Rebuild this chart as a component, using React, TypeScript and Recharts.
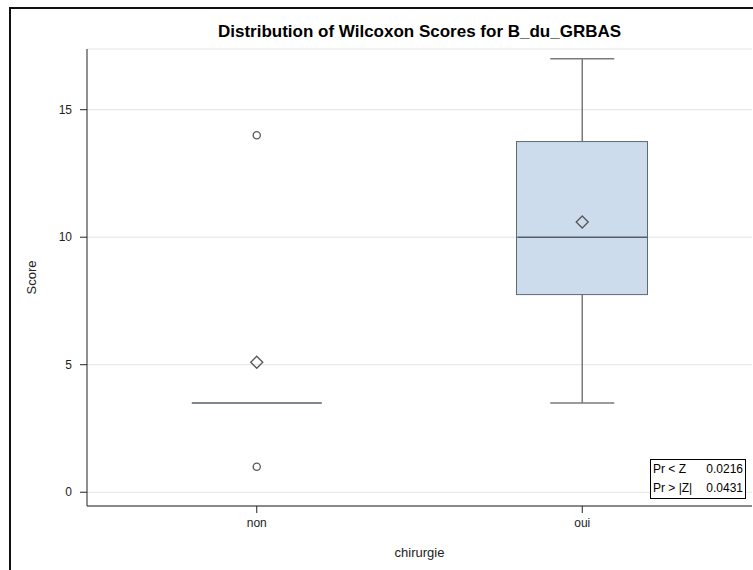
import { ComposedChart, Bar, Scatter, XAxis, YAxis, CartesianGrid, Label } from "recharts";

// Wilcoxon scores by group
const categories = ["non", "oui"];
const q1 = [3.5, 7.75];
const medians = [3.5, 10];
const q3 = [3.5, 13.75];
const whiskerLow = [3.5, 3.5];
const whiskerHigh = [3.5, 17];
const means = [5.1, 10.6];
const outlierHigh = [14, null];
const outlierLow = [1, null];
const yTicks = [0, 5, 10, 15];
const statLabels = ["Pr < Z", "Pr > |Z|"];
const statValues = ["0.0216", "0.0431"];

const data = categories.map((cat, i) => ({
  cat,
  whisker: [whiskerLow[i], whiskerHigh[i]],
  box: [q1[i], q3[i]],
  median: medians[i],
  lo: whiskerLow[i],
  hi: whiskerHigh[i],
  mean: means[i],
  outHigh: outlierHigh[i],
  outLow: outlierLow[i],
}));

const FONT = "'Liberation Sans', Arial, sans-serif";
const FRAME = "#222";

const WhiskerShape = (p: any) => (
  <rect x={p.x} y={p.y} width={p.width} height={Math.max(p.height, 0)} fill="#7a7a7a" />
);

const BoxShape = (p: any) => (
  <rect
    x={p.x}
    y={p.y}
    width={p.width}
    height={Math.max(p.height, 0)}
    fill="#cddcec"
    stroke="#5e6974"
    strokeWidth={1}
  />
);

const capShape = (p: any) => {
  if (p.payload.lo === p.payload.hi) return <g />;
  return <line x1={p.cx - 32} x2={p.cx + 32} y1={p.cy} y2={p.cy} stroke="#7a7a7a" strokeWidth={1.5} />;
};

const medianShape = (p: any) => (
  <line x1={p.cx - 65} x2={p.cx + 65} y1={p.cy} y2={p.cy} stroke="#555e68" strokeWidth={1.5} />
);

const meanShape = (p: any) => (
  <polygon
    points={`${p.cx},${p.cy - 6} ${p.cx + 6},${p.cy} ${p.cx},${p.cy + 6} ${p.cx - 6},${p.cy}`}
    fill="none"
    stroke="#5a5a5a"
    strokeWidth={1.4}
  />
);

const outlierShape = (key: string) => (p: any) => {
  if (p.payload[key] == null) return <g />;
  return <circle cx={p.cx} cy={p.cy} r={3.6} fill="none" stroke="#5a5a5a" strokeWidth={1.3} />;
};

export default function App() {
  return (
    <div
      style={{
        position: "absolute",
        left: 0,
        top: 0,
        width: 753,
        height: 570,
        overflow: "hidden",
        background: "#fff",
        fontFamily: FONT,
      }}
    >
      <div
        style={{
          position: "absolute",
          left: 9,
          top: 7,
          width: 800,
          height: 600,
          borderLeft: "2px solid #111",
          borderTop: "2px solid #111",
        }}
      />
      <div
        style={{
          position: "absolute",
          left: 87,
          top: 22,
          width: 665,
          textAlign: "center",
          fontSize: 17,
          fontWeight: "bold",
          color: "#000",
        }}
      >
        Distribution of Wilcoxon Scores for B_du_GRBAS
      </div>

      <ComposedChart
        width={753}
        height={570}
        data={data}
        margin={{ top: 49, right: 1, bottom: 0, left: 0 }}
        barGap={0}
        style={{ position: "absolute", left: 0, top: 0 }}
      >
        <CartesianGrid vertical={false} stroke="#e4e4e4" strokeWidth={1} />
        <XAxis
          dataKey="cat"
          type="category"
          height={64}
          padding={{ left: 7, right: 7 }}
          tickSize={7}
          tickMargin={5}
          tick={{ fontSize: 12, fill: "#222", fontFamily: FONT }}
          tickLine={{ stroke: FRAME }}
          axisLine={{ stroke: FRAME }}
        >
          <Label
            value="chirurgie"
            position="insideBottom"
            offset={13}
            style={{ fontSize: 13, fill: "#222", fontFamily: FONT }}
          />
        </XAxis>
        <XAxis
          xAxisId="w"
          dataKey="cat"
          type="category"
          orientation="top"
          height={0}
          padding={{ left: 7, right: 7 }}
          tick={false}
          tickLine={false}
          axisLine={{ stroke: FRAME }}
        />
        <YAxis
          type="number"
          width={87}
          domain={[-0.54, 17.38]}
          ticks={yTicks}
          allowDataOverflow
          tickSize={7}
          tickMargin={8}
          tick={{ fontSize: 12, fill: "#222", fontFamily: FONT }}
          tickLine={{ stroke: FRAME }}
          axisLine={{ stroke: FRAME }}
        >
          <Label
            content={(props: any) => {
              const vb = props.viewBox || { x: 0, y: 49, height: 457 };
              const cx = vb.x + 31;
              const cy = vb.y + vb.height / 2;
              return (
                <text
                  x={cx}
                  y={cy}
                  transform={`rotate(-90 ${cx} ${cy})`}
                  textAnchor="middle"
                  dominantBaseline="central"
                  fontSize={13}
                  fill="#222"
                  fontFamily={FONT}
                >
                  Score
                </text>
              );
            }}
          />
        </YAxis>
        <YAxis
          yAxisId="r"
          orientation="right"
          width={0}
          domain={[0, 1]}
          tick={false}
          tickLine={false}
          axisLine={{ stroke: FRAME }}
        />

        <Bar xAxisId="w" dataKey="whisker" barSize={1.5} shape={WhiskerShape} isAnimationActive={false} />
        <Bar dataKey="box" barSize={131} shape={BoxShape} isAnimationActive={false} />
        <Scatter dataKey="hi" shape={capShape} isAnimationActive={false} />
        <Scatter dataKey="lo" shape={capShape} isAnimationActive={false} />
        <Scatter dataKey="median" shape={medianShape} isAnimationActive={false} />
        <Scatter dataKey="mean" shape={meanShape} isAnimationActive={false} />
        <Scatter dataKey="outHigh" shape={outlierShape("outHigh")} isAnimationActive={false} />
        <Scatter dataKey="outLow" shape={outlierShape("outLow")} isAnimationActive={false} />
      </ComposedChart>

      <div
        style={{
          position: "absolute",
          left: 650,
          top: 459,
          width: 92,
          border: "1px solid #000",
          background: "#fff",
          fontSize: 12,
          color: "#000",
          lineHeight: "19px",
          padding: "0 0 0 2px",
        }}
      >
        {statLabels.map((l, i) => (
          <div key={l} style={{ display: "flex", justifyContent: "space-between", paddingRight: 2 }}>
            <span>{l}</span>
            <span>{statValues[i]}</span>
          </div>
        ))}
      </div>
    </div>
  );
}
